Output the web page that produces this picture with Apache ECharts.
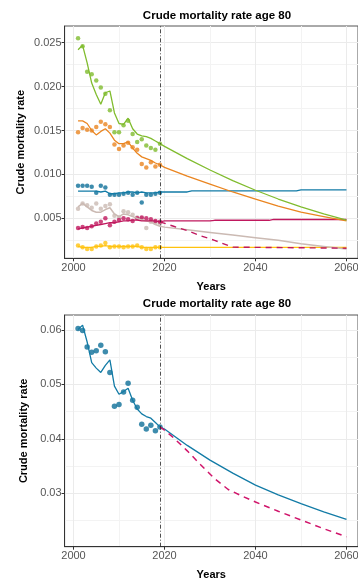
<!DOCTYPE html>
<html><head><meta charset="utf-8">
<script src="https://cdn.jsdelivr.net/npm/echarts@6/dist/echarts.min.js"></script>
<style>html,body{margin:0;padding:0;background:#fff}#c{width:358px;height:585px}</style>
</head><body><div id="c"></div>
<script>
// ---------- data ----------
const chartTitle = 'Crude mortality rate age 80';
const xName = 'Years';
const yName = 'Crude mortality rate';
const cutoffYear = 2019.15;

const obsYears = [2001,2002,2003,2004,2005,2006,2007,2008,2009,2010,2011,2012,2013,2014,2015,2016,2017,2018,2019];
const projYears = [2020,2025,2030,2035,2040,2045,2050,2055,2060];

const xMajor = [2000,2020,2040,2060];
const xMinor = [2010,2030,2050];
const yMajorTop = [0.005,0.010,0.015,0.020,0.025];
const yMinorTop = [0.0025,0.0075,0.0125,0.0175,0.0225];
const yMajorBot = [0.03,0.04,0.05,0.06];
const yMinorBot = [0.025,0.035,0.045,0.055];

// top panel
const greenObs = [0.0255,0.0246,0.0217,0.0214,0.0207,0.0199,0.0192,0.0173,0.0148,0.0148,0.0156,0.0161,0.0146,0.0137,0.0140,0.0133,0.0130,0.0128,0.0135];
const greenFit = [0.0242,0.0247,0.0227,0.0204,0.0191,0.0180,0.0193,0.0195,0.0170,0.0158,0.0157,0.0164,0.0152,0.0146,0.0144,0.0143,0.0141,0.0138,0.0135];
const greenProj = [0.0132,0.0118,0.0105,0.0093,0.0082,0.0072,0.0063,0.0055,0.0048];

const orangeObs = [0.0148,0.0153,0.0151,0.0150,0.0154,0.0160,0.0157,0.0154,0.0134,0.0129,0.0133,0.0136,0.0131,0.0128,0.0112,0.0108,0.0114,0.0109,0.0111];
const orangeFit = [0.0161,0.0161,0.0158,0.0150,0.0145,0.0149,0.0152,0.0147,0.0139,0.0135,0.0135,0.0137,0.0130,0.0124,0.0120,0.0118,0.0116,0.0113,0.0111];
const orangeProj = [0.0108,0.0098,0.0089,0.0080,0.0072,0.0064,0.0057,0.0052,0.0047];

const blueObs = [0.0087,0.0087,0.0087,0.0086,0.0079,0.0087,0.0085,0.0077,0.0077,0.0077,0.0078,0.0079,0.0077,0.0079,0.0068,0.0077,0.0077,0.0078,0.0079];
const blueFit = [0.0081,0.0081,0.0081,0.0081,0.0081,0.0080,0.0081,0.0078,0.0078,0.0079,0.0079,0.0080,0.0080,0.0079,0.0080,0.0079,0.0079,0.0079,0.0080];
const blueProjYears = [2020,2025,2026,2049,2050,2060];
const blueProj = [0.0080,0.0080,0.00813,0.00813,0.00825,0.00825];

const tanObs = [0.0061,0.0067,0.0065,0.0062,0.0067,0.0061,0.0064,0.0066,0.0053,0.0051,0.0058,0.0057,0.0054,0.0051,0.0050,0.0039,0.0046,0.0045,0.0044];
const tanFit = [0.0063,0.0067,0.0063,0.0059,0.0057,0.0057,0.0060,0.0062,0.0055,0.0052,0.0055,0.0054,0.0052,0.0050,0.0048,0.0047,0.0046,0.0043,0.0041];
const tanProj = [0.0040,0.0037,0.0034,0.0031,0.0028,0.0025,0.0021,0.0018,0.0015];

const pinkObs = [0.0039,0.0040,0.0039,0.0041,0.0044,0.0046,0.0050,0.0042,0.0046,0.0048,0.0050,0.0049,0.0047,0.0050,0.0051,0.0050,0.0049,0.0047,0.0046];
const pinkFit = [0.0038,0.0039,0.0040,0.0041,0.0042,0.0043,0.0044,0.0045,0.0045,0.0046,0.0047,0.0047,0.0048,0.0048,0.0047,0.0047,0.0047,0.0047,0.0046];
const pinkProjYears = [2020,2030,2031,2043,2044,2060];
const pinkProj = [0.0047,0.0047,0.00478,0.00478,0.00487,0.00487];
const pinkDashYears = [2019,2022,2025,2028,2031,2034,2035,2060];
const pinkDash = [0.0046,0.0041,0.0036,0.0030,0.0025,0.0019,0.00172,0.0016];

const yellowObs = [0.0019,0.0017,0.0015,0.0015,0.0018,0.0019,0.0022,0.0017,0.0018,0.0018,0.0017,0.0018,0.0018,0.0019,0.0017,0.0015,0.0015,0.0017,0.0017];
const yellowFit = [0.0018,0.0017,0.0017,0.0017,0.0018,0.0018,0.0019,0.0018,0.0018,0.0018,0.0018,0.0018,0.0018,0.0018,0.0017,0.0017,0.0017,0.0017,0.0017];
const yellowProj = [0.0017,0.0017,0.0017,0.0017,0.0017,0.0017,0.0017,0.0017,0.0017];

// bottom panel
const blueObs2 = [0.0603,0.0599,0.0569,0.0559,0.0562,0.0572,0.0560,0.0522,0.0460,0.0463,0.0486,0.0502,0.0471,0.0458,0.0427,0.0418,0.0425,0.0415,0.0422];
const blueFit2 = [0.0601,0.0609,0.0578,0.0540,0.0530,0.0522,0.0535,0.0545,0.0497,0.0482,0.0487,0.0493,0.0471,0.0455,0.0446,0.0441,0.0438,0.0430,0.0422];
const blueProj2 = [0.0418,0.0388,0.0361,0.0337,0.0315,0.0297,0.0281,0.0266,0.0252];
const pinkDash2Years = [2019,2020,2022,2025,2028,2031,2034,2037,2040,2045,2050,2055,2060];
const pinkDash2 = [0.0422,0.0416,0.0402,0.0378,0.0352,0.0327,0.0307,0.0295,0.0284,0.0267,0.0251,0.0235,0.0220];

// ---------- helpers ----------
const zip = (xs, ys) => xs.map((x, i) => [x, ys[i]]);
const C = {
  green:'#80BC2E', orange:'#EA8520', blue:'#127BA6', blueDot:'#0E6F99',
  tan:'#CBBAB3', pink:'#C0185E', yellow:'#FFC20E', pink2:'#D0146A'
};
const FONT = '"Liberation Sans", Arial, sans-serif';
const X_MIN = 1998.044, X_MAX = 2062.53;

function xAxes(grid) {
  return [
    { type:'value', gridIndex:grid, position:'bottom', min:X_MIN, max:X_MAX,
      axisLine:{show:false}, axisTick:{show:false, customValues:xMinor},
      axisLabel:{show:false, customValues:xMinor},
      splitLine:{show:true, lineStyle:{color:'#F3F3F3', width:1}} },
    { type:'value', gridIndex:grid, position:'bottom', min:X_MIN, max:X_MAX,
      axisLine:{show:true, onZero:false, lineStyle:{color:'#333', width:1}},
      axisTick:{show:true, length:3, customValues:xMajor, lineStyle:{color:'#333'}},
      axisLabel:{customValues:xMajor, color:'#555', fontSize:11, margin:4, fontFamily:FONT,
        formatter:v => String(Math.round(v))},
      splitLine:{show:true, lineStyle:{color:'#EBEBEB', width:1}},
      name:xName, nameLocation:'middle', nameGap:23, nameMoveOverlap:false,
      nameTextStyle:{fontWeight:'bold', fontSize:11, color:'#000', fontFamily:FONT} }
  ];
}
function yAxes(grid, min, max, major, minor, digits, gap) {
  return [
    { type:'value', gridIndex:grid, position:'left', min, max,
      axisLine:{show:false}, axisTick:{show:false, customValues:minor},
      axisLabel:{show:false, customValues:minor},
      splitLine:{show:true, lineStyle:{color:'#F3F3F3', width:1}} },
    { type:'value', gridIndex:grid, position:'left', min, max,
      axisLine:{show:true, onZero:false, lineStyle:{color:'#333', width:1}},
      axisTick:{show:true, length:3, customValues:major, lineStyle:{color:'#333'}},
      axisLabel:{customValues:major, color:'#555', fontSize:11, margin:3, fontFamily:FONT,
        formatter:v => v.toFixed(digits)},
      splitLine:{show:true, lineStyle:{color:'#EBEBEB', width:1}},
      name:yName, nameLocation:'middle', nameGap:gap, nameMoveOverlap:false,
      nameTextStyle:{fontWeight:'bold', fontSize:11, color:'#000', fontFamily:FONT} }
  ];
}

function pts(name, xs, ys, color, xi, yi, size) {
  return { name, type:'scatter', xAxisIndex:xi, yAxisIndex:yi, data:zip(xs, ys),
    symbol:'circle', symbolSize:size, itemStyle:{color}, z:3, silent:true };
}
function line(name, xs, ys, color, xi, yi, dashed, width) {
  return { name, type:'line', xAxisIndex:xi, yAxisIndex:yi, data:zip(xs, ys),
    showSymbol:false, symbol:'none', smooth:false, z:4, silent:true,
    lineStyle:{color, width:width || 1.3, type: dashed ? [6,5] : 'solid'} };
}
function vline(xi, yi) {
  return { type:'line', xAxisIndex:xi, yAxisIndex:yi, data:[], silent:true, z:5,
    markLine:{ silent:true, symbol:'none', label:{show:false},
      lineStyle:{color:'#222', width:0.8, type:[4,2,1,2]},
      data:[{xAxis:cutoffYear}] } };
}

const fitYearsAll = obsYears.concat(projYears);

const series = [
  pts('green obs', obsYears, greenObs, C.green, 1, 1, 4.5),
  pts('orange obs', obsYears, orangeObs, C.orange, 1, 1, 4.5),
  pts('blue obs', obsYears, blueObs, C.blueDot, 1, 1, 4.5),
  pts('tan obs', obsYears, tanObs, C.tan, 1, 1, 4.5),
  pts('pink obs', obsYears, pinkObs, C.pink, 1, 1, 4.5),
  pts('yellow obs', obsYears, yellowObs, C.yellow, 1, 1, 4.5),
  line('yellow fit', fitYearsAll, yellowFit.concat(yellowProj), C.yellow, 1, 1),
  line('tan fit', fitYearsAll, tanFit.concat(tanProj), C.tan, 1, 1, false, 1.5),
  line('pink fit', obsYears.concat(pinkProjYears), pinkFit.concat(pinkProj), C.pink, 1, 1),
  line('blue fit', obsYears.concat(blueProjYears), blueFit.concat(blueProj), C.blue, 1, 1),
  line('orange fit', fitYearsAll, orangeFit.concat(orangeProj), C.orange, 1, 1),
  line('green fit', fitYearsAll, greenFit.concat(greenProj), C.green, 1, 1),
  line('pink dashed', pinkDashYears, pinkDash, C.pink, 1, 1, true, 1.4),
  vline(1, 1),
  pts('blue obs 2', obsYears, blueObs2, C.blueDot, 3, 3, 5.5),
  line('blue fit 2', fitYearsAll, blueFit2.concat(blueProj2), C.blue, 3, 3),
  line('pink dashed 2', pinkDash2Years, pinkDash2, C.pink2, 3, 3, true, 1.5),
  vline(3, 3)
];

const chart = echarts.init(document.getElementById('c'), null, {renderer:'canvas'});
chart.setOption({
  animation:false,
  backgroundColor:'#fff',
  textStyle:{fontFamily:FONT},
  title:[
    {text:chartTitle, left:212, top:5, textAlign:'center',
      textStyle:{fontSize:11.5, fontWeight:'bold', color:'#000', fontFamily:FONT}},
    {text:chartTitle, left:212, top:293, textAlign:'center',
      textStyle:{fontSize:11.5, fontWeight:'bold', color:'#000', fontFamily:FONT}}
  ],
  grid:[
    {left:64.6, top:26, right:0, height:232.3, show:true, borderColor:'#555', borderWidth:1, backgroundColor:'#fff', containLabel:false, outerBoundsMode:'none'},
    {left:64.6, top:315, right:0, height:231.7, show:true, borderColor:'#555', borderWidth:1, backgroundColor:'#fff', containLabel:false, outerBoundsMode:'none'}
  ],
  xAxis: xAxes(0).concat(xAxes(1)),
  yAxis: yAxes(0, 0.00045, 0.0269, yMajorTop, yMinorTop, 3, 38.5)
    .concat(yAxes(1, 0.02019, 0.06276, yMajorBot, yMinorBot, 2, 35.5)),
  series
});
</script></body></html>
